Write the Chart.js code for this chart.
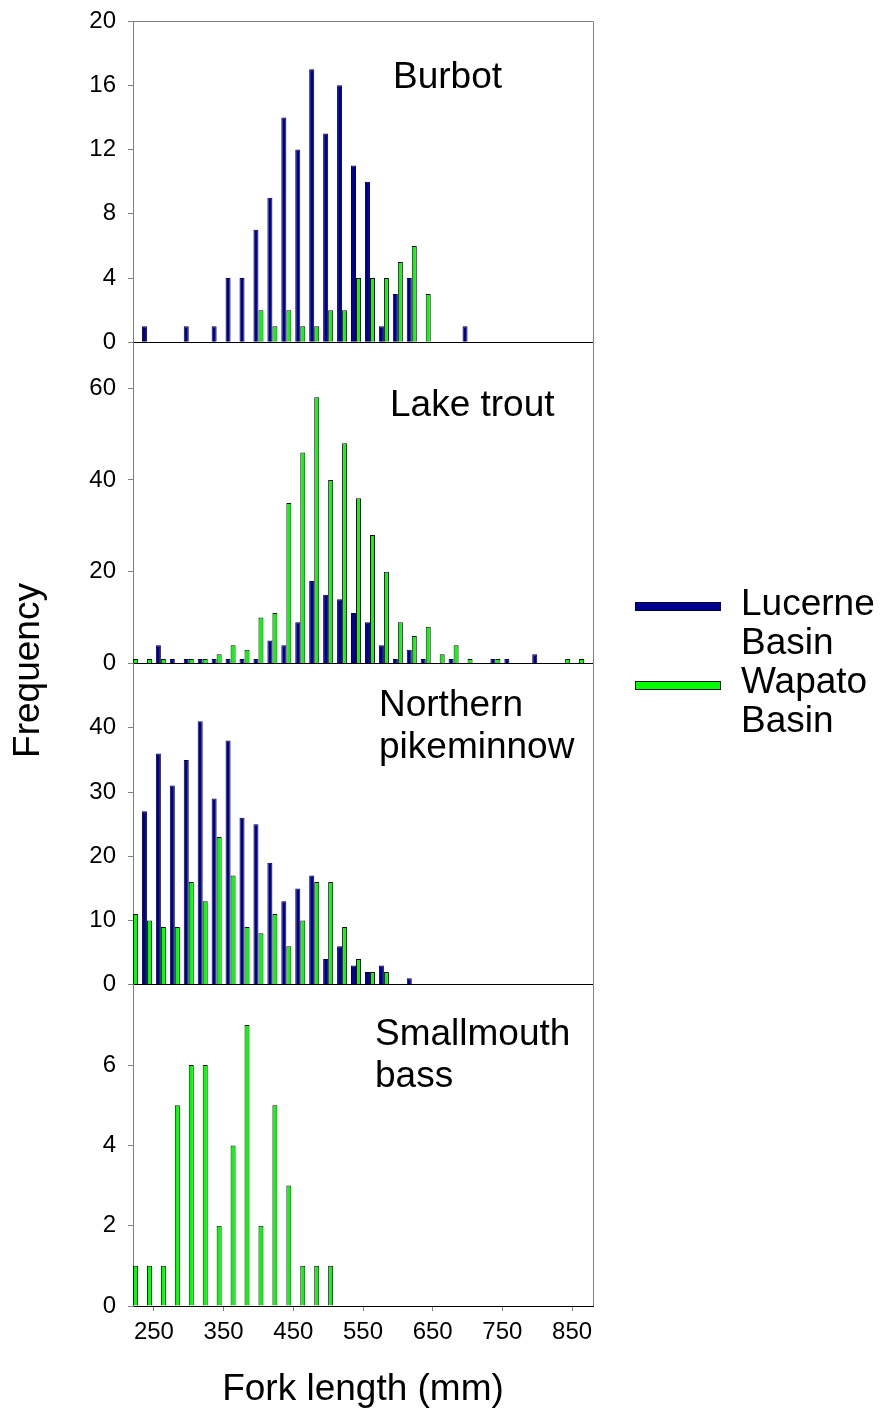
<!DOCTYPE html>
<html><head><meta charset="utf-8">
<script src="https://cdn.jsdelivr.net/npm/chart.js@4"></script>
<style>html,body{margin:0;padding:0;background:#fff;overflow:hidden}canvas{display:block}</style>
</head><body>
<canvas id="c" width="882" height="1412"></canvas>
<script>
// ---- data ----
const bins = [220,240,260,280,300,320,340,360,380,400,420,440,460,480,500,520,540,560,580,600,620,640,660,680,700,720,740,760,780,800,820,840,860];
const seriesNames = ['Lucerne Basin', 'Wapato Basin'];
const panelNames = [['Burbot'], ['Lake trout'], ['Northern', 'pikeminnow'], ['Smallmouth', 'bass']];

const burbotLucerne = [0,1,0,0,1,0,1,4,4,7,9,14,12,17,13,16,11,10,1,3,4,0,0,0,1,0,0,0,0,0,0,0,0];
const burbotWapato  = [0,0,0,0,0,0,0,0,0,2,1,2,1,1,2,2,4,4,4,5,6,3,0,0,0,0,0,0,0,0,0,0,0];
const troutLucerne  = [0,0,4,1,1,1,1,1,1,1,5,4,9,18,15,14,11,9,4,1,3,1,0,1,0,0,1,1,0,2,0,0,0];
const troutWapato   = [1,1,1,0,1,1,2,4,3,10,11,35,46,58,40,48,36,28,20,9,6,8,2,4,1,0,1,0,0,0,0,1,1];
const pikeLucerne   = [0,27,36,31,35,41,29,38,26,25,19,13,15,17,4,6,3,2,3,0,1,0,0,0,0,0,0,0,0,0,0,0,0];
const pikeWapato    = [11,10,9,9,16,13,23,17,9,8,11,6,10,16,16,9,4,2,2,0,0,0,0,0,0,0,0,0,0,0,0,0,0];
const bassLucerne   = [0,0,0,0,0,0,0,0,0,0,0,0,0,0,0,0,0,0,0,0,0,0,0,0,0,0,0,0,0,0,0,0,0];
const bassWapato    = [1,1,1,5,6,6,2,4,7,2,5,3,1,1,1,0,0,0,0,0,0,0,0,0,0,0,0,0,0,0,0,0,0];

const xTickValues   = [250,350,450,550,650,750,850];
const burbotTicks   = [0,4,8,12,16,20];
const troutTicks    = [0,20,40,60];
const pikeTicks     = [0,10,20,30,40];
const bassTicks     = [0,2,4,6];
const panelMax      = [20, 70, 50, 8];

// ---- styles ----
const FONT = "'Liberation Sans', Arial, Helvetica, sans-serif";
const BLUE = '#000090', BLUE_EDGE = '#000040';
const GREEN = '#00ff00', GREEN_EDGE = '#101010';
const GRAY = '#808080';
const titlePlace = [
  {dx: 260, dy: 67, lh: 42},
  {dx: 257, dy: 74, lh: 42},
  {dx: 246, dy: 52, lh: 42},
  {dx: 242, dy: 60, lh: 42}
];

Chart.defaults.font.family = FONT;
Chart.defaults.color = '#000';

const panels = [
  {id: 'yBurbot', lucerne: burbotLucerne, wapato: burbotWapato, ticks: burbotTicks, max: panelMax[0], name: panelNames[0]},
  {id: 'yTrout',  lucerne: troutLucerne,  wapato: troutWapato,  ticks: troutTicks,  max: panelMax[1], name: panelNames[1]},
  {id: 'yPike',   lucerne: pikeLucerne,   wapato: pikeWapato,   ticks: pikeTicks,   max: panelMax[2], name: panelNames[2]},
  {id: 'yBass',   lucerne: bassLucerne,   wapato: bassWapato,   ticks: bassTicks,   max: panelMax[3], name: panelNames[3]}
];

const datasets = [];
panels.forEach(p => {
  datasets.push({
    label: seriesNames[0], stack: 'L', yAxisID: p.id, xAxisID: 'x',
    data: bins.map((b, i) => ({x: b, y: p.lucerne[i]})),
    backgroundColor: BLUE, borderColor: BLUE_EDGE, borderWidth: 1,
    barPercentage: 1.0, categoryPercentage: 0.72
  });
  datasets.push({
    label: seriesNames[1], stack: 'W', yAxisID: p.id, xAxisID: 'x',
    data: bins.map((b, i) => ({x: b, y: p.wapato[i]})),
    backgroundColor: GREEN, borderColor: GREEN_EDGE, borderWidth: 1,
    barPercentage: 1.0, categoryPercentage: 0.72
  });
});

const scales = {
  x: {
    type: 'linear', position: 'bottom', min: 220, max: 880, offset: false,
    grid: {drawOnChartArea: false, offset: false, color: GRAY, tickLength: 5},
    border: {color: '#000'},
    ticks: {font: {size: 24}, padding: 7, maxRotation: 0, autoSkip: false, color: '#000'},
    afterBuildTicks: a => { a.ticks = xTickValues.map(v => ({value: v})); },
    afterFit: s => { s.height = 106; s.paddingLeft = 0; s.paddingRight = 0; },
    title: {display: true, text: 'Fork length (mm)', font: {size: 37, lineHeight: 1.2}, color: '#000', padding: {top: 0, bottom: 0}}
  }
};
// stacked axes are laid out bottom-up, so add the bottom panel first
panels.slice().reverse().forEach(p => {
  scales[p.id] = {
    type: 'linear', position: 'left', stack: 'panels', stackWeight: 1,
    min: 0, max: p.max, offset: false, stacked: false,
    grid: {
      color: c => (c.tick && c.tick.value === 0) ? '#000' : 'rgba(0,0,0,0)',
      tickColor: GRAY, tickLength: 5, drawOnChartArea: true
    },
    border: {color: GRAY},
    ticks: {font: {size: 24}, padding: 12, autoSkip: false, color: '#000'},
    afterBuildTicks: a => { a.ticks = p.ticks.map(v => ({value: v})); },
    afterFit: s => { s.width = 133; s.paddingTop = 0; s.paddingBottom = 0; }
  };
});

const decor = {
  id: 'decor',
  afterDatasetsDraw(chart) {
    const {ctx, chartArea: a} = chart;
    ctx.save();
    // frame top & right
    ctx.strokeStyle = GRAY; ctx.lineWidth = 1;
    ctx.beginPath();
    ctx.moveTo(Math.round(a.left), Math.round(a.top) + 0.5);
    ctx.lineTo(Math.round(a.right) + 0.5, Math.round(a.top) + 0.5);
    ctx.lineTo(Math.round(a.right) + 0.5, Math.round(a.bottom));
    ctx.stroke();
    // panel names
    ctx.fillStyle = '#000';
    ctx.font = '37px ' + FONT;
    ctx.textAlign = 'left'; ctx.textBaseline = 'alphabetic';
    panels.forEach((p, k) => {
      const s = chart.scales[p.id];
      const t = titlePlace[k];
      p.name.forEach((line, i) => ctx.fillText(line, a.left + t.dx, s.top + t.dy + i * t.lh));
    });
    // y title
    ctx.save();
    ctx.font = '37px ' + FONT;
    ctx.translate(39, (a.top + a.bottom) / 2 + 7);
    ctx.rotate(-Math.PI / 2);
    ctx.textAlign = 'center'; ctx.textBaseline = 'alphabetic';
    ctx.fillText('Frequency', 0, 0);
    ctx.restore();
    // legend
    const lx = a.right + 42, lw = 86, tx = a.right + 148;
    ctx.font = '37px ' + FONT;
    ctx.textAlign = 'left';
    const legendItems = [
      {fill: BLUE, edge: BLUE_EDGE, lines: seriesNames[0].split(' '), ry: 602, ty: 615},
      {fill: GREEN, edge: GREEN_EDGE, lines: seriesNames[1].split(' '), ry: 681, ty: 693}
    ];
    legendItems.forEach(it => {
      ctx.fillStyle = it.fill; ctx.strokeStyle = it.edge;
      ctx.fillRect(lx, it.ry, lw, 9);
      ctx.strokeRect(lx + 0.5, it.ry + 0.5, lw - 1, 8);
      ctx.fillStyle = '#000';
      it.lines.forEach((ln, i) => ctx.fillText(ln, tx, it.ty + i * 39));
    });
    ctx.restore();
  }
};

new Chart(document.getElementById('c'), {
  type: 'bar',
  data: {datasets},
  options: {
    responsive: false, animation: false,
    layout: {padding: {left: 0, right: 289, top: 21, bottom: 0}},
    plugins: {legend: {display: false}, tooltip: {enabled: false}},
    scales
  },
  plugins: [decor]
});
</script>
</body></html>
